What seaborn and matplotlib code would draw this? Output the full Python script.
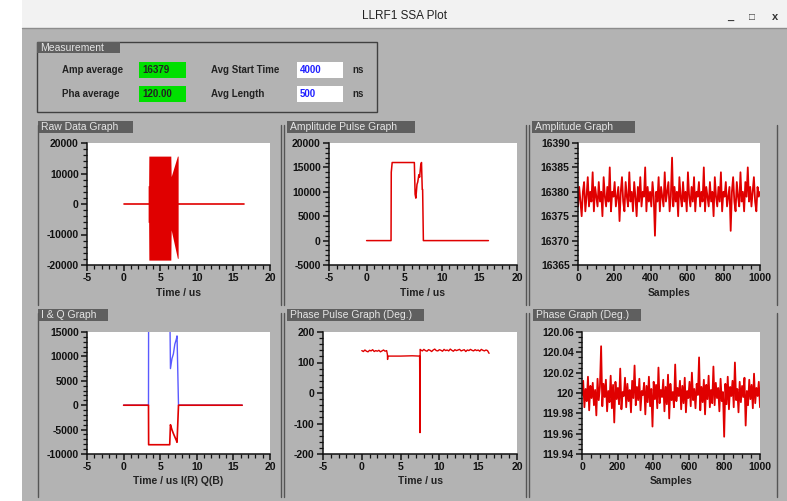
import matplotlib
matplotlib.use("Agg")
import matplotlib.pyplot as plt
import seaborn as sns
from matplotlib.patches import Rectangle
from matplotlib.ticker import MultipleLocator, AutoMinorLocator, FuncFormatter

W, H = 787, 501
RED = "#e00000"
BLUE = "#5a5aff"
GRAY = "#b3b3b3"
TAB = "#5f5f5f"

# ---- data ----
raw_base_t = [0.0, 16.4]
raw_base_v = [0, 0]
raw_env_t = [3.35, 3.42, 3.45, 6.45, 6.5, 7.35, 7.45]
raw_upper = [6000, 6000, 15700, 15700, 9000, 15700, 15700]
raw_lower = [-6000, -6000, -18400, -18400, -8500, -17800, -17800]

pulse_t = [0.0, 3.25, 3.28, 3.4, 6.35, 6.45, 6.55, 6.7, 6.8, 6.95, 7.05, 7.2, 7.3, 7.4, 7.45, 7.55, 16.2]
pulse_amp = [0, 0, 14000, 16000, 16000, 9500, 8700, 11500, 12000, 13500, 13000, 15500, 16000, 10500, 10500, 0, 0]

iq_t = [0.0, 3.4, 3.42, 6.3, 6.4, 6.6, 6.8, 7.0, 7.2, 7.3, 7.5, 16.2]
i_vals = [0, 0, -8100, -8100, -4000, -5000, -5800, -6500, -7200, -7600, 0, 0]
q_vals = [0, 0, 22000, 22000, 7500, 9500, 10500, 12500, 13500, 14200, 0, 0]

pp_t = [0.0, 0.2, 0.4, 0.6, 0.8, 1.0, 1.2, 1.4, 1.6, 1.8, 2.0, 2.2, 2.4, 2.6, 2.8, 3.0, 3.2, 3.3,
        3.32, 3.36, 5.0, 6.5, 7.45, 7.5, 7.52,
        7.6, 7.8, 8.0, 8.2, 8.4, 8.6, 8.8, 9.0, 9.2, 9.4, 9.6, 9.8, 10.0, 10.2, 10.4, 10.6,
        10.8, 11.0, 11.2, 11.4, 11.6, 11.8, 12.0, 12.2, 12.4, 12.6, 12.8, 13.0, 13.2, 13.4,
        13.6, 13.8, 14.0, 14.2, 14.4, 14.6, 14.8, 15.0, 15.2, 15.4, 15.6, 15.8, 16.0, 16.2, 16.4]
pp_vals = [139, 136, 141, 137, 135, 140, 138, 142, 136, 139, 137, 140, 135, 138, 141, 137, 139, 126,
           110, 121, 121, 122, 121, -130, 143,
           141, 138, 143, 139, 137, 142, 140, 136, 141, 144, 139, 138, 142, 140, 137, 143,
           139, 141, 138, 144, 140, 137, 142, 139, 141, 143, 138, 140, 142, 136, 141,
           139, 143, 140, 138, 142, 139, 141, 137, 143, 140, 138, 141, 139, 130]

amp_vals = [
    16377, 16381, 16378, 16375, 16380, 16382, 16376, 16379, 16383, 16377,
    16380, 16378, 16384, 16376, 16381, 16379, 16377, 16382, 16378, 16380,
    16375, 16383, 16379, 16377, 16381, 16378, 16385, 16376, 16380, 16379,
    16382, 16377, 16379, 16381, 16374, 16380, 16383, 16378, 16376, 16382,
    16379, 16377, 16384, 16378, 16380, 16376, 16382, 16379, 16375, 16381,
    16378, 16383, 16377, 16380, 16379, 16385, 16376, 16381, 16378, 16380,
    16377, 16382, 16379, 16371, 16380, 16378, 16383, 16376, 16381, 16379,
    16377, 16384, 16378, 16380, 16382, 16376, 16379, 16387, 16377, 16381,
    16378, 16380, 16375, 16383, 16379, 16377, 16382, 16378, 16380, 16376,
    16384, 16379, 16377, 16381, 16378, 16383, 16376, 16380, 16379, 16382,
    16377, 16380, 16378, 16385, 16376, 16381, 16379, 16377, 16382, 16378,
    16380, 16375, 16383, 16379, 16377, 16381, 16378, 16384, 16376, 16380,
    16379, 16382, 16377, 16379, 16381, 16372, 16380, 16383, 16378, 16376,
    16382, 16379, 16377, 16384, 16378, 16380, 16376, 16382, 16379, 16385,
    16378, 16381, 16377, 16380, 16383, 16378, 16376, 16381, 16379, 16380]

ph_vals = [
    119.998, 120.012, 119.986, 120.004, 119.992, 120.016, 119.983, 120.007, 119.995, 120.010,
    119.988, 120.003, 119.978, 120.014, 119.993, 120.006, 120.046, 119.987, 120.009, 119.996,
    120.013, 119.982, 120.002, 119.991, 120.017, 119.985, 120.008, 119.971, 120.011, 119.994,
    120.005, 119.989, 120.024, 119.984, 120.001, 119.997, 120.015, 119.986, 120.009, 119.992,
    120.003, 119.981, 120.012, 119.995, 120.027, 119.988, 120.006, 119.993, 120.014, 119.983,
    120.002, 119.998, 120.010, 119.979, 120.007, 119.991, 120.016, 119.987, 120.004, 119.967,
    120.011, 119.994, 120.008, 119.985, 120.025, 119.990, 120.003, 119.996, 120.013, 119.982,
    120.006, 119.989, 120.018, 119.975, 120.009, 119.993, 120.001, 119.986, 120.028, 119.992,
    120.005, 119.997, 120.012, 119.984, 120.007, 119.990, 120.015, 119.981, 120.002, 119.995,
    120.011, 119.987, 120.020, 119.993, 120.004, 119.985, 120.009, 119.998, 120.035, 119.983,
    120.006, 119.991, 120.013, 119.979, 120.008, 119.994, 120.017, 119.986, 120.003, 119.990,
    120.026, 119.988, 120.010, 119.995, 120.005, 119.982, 120.014, 119.992, 120.001, 119.957,
    120.009, 119.989, 120.016, 119.984, 120.006, 119.997, 120.012, 119.986, 120.030, 119.993,
    120.004, 119.981, 120.011, 119.991, 120.007, 119.996, 120.015, 119.968, 120.002, 119.988,
    120.013, 119.994, 120.008, 119.985, 120.019, 119.990, 120.005, 119.997, 120.011, 119.986]

samples = [i * 1000 / (len(amp_vals) - 1) for i in range(len(amp_vals))]

meas_labels = ["Amp average", "Pha average"]
meas_values = ["16379", "120.00"]
avg_labels = ["Avg Start Time", "Avg Length"]
avg_values = ["4000", "500"]


def px_axes(fig, x0, y0, x1, y1):
    return fig.add_axes([x0 / W, 1 - y1 / H, (x1 - x0) / W, (y1 - y0) / H])


def fmt(v, pos):
    if abs(v) < 1e-9:
        return "0"
    return f"{v:g}"


def style_axes(ax, xlim, ylim, xstep, ystep, xminor, yminor, xlabel):
    ax.set_facecolor("white")
    ax.set_xlim(*xlim)
    ax.set_ylim(*ylim)
    ax.xaxis.set_major_locator(MultipleLocator(xstep))
    ax.yaxis.set_major_locator(MultipleLocator(ystep))
    ax.xaxis.set_minor_locator(AutoMinorLocator(xminor))
    ax.yaxis.set_minor_locator(AutoMinorLocator(yminor))
    ax.xaxis.set_major_formatter(FuncFormatter(fmt))
    ax.yaxis.set_major_formatter(FuncFormatter(fmt))
    ax.tick_params(which="major", direction="out", length=4.5, width=1.1,
                   labelsize=7.5, pad=1.5, colors="#111111")
    ax.tick_params(which="minor", direction="out", length=2.8, width=0.9,
                   colors="#111111", bottom=True, left=True)
    for lab in ax.get_xticklabels() + ax.get_yticklabels():
        lab.set_fontweight("bold")
    sns.despine(ax=ax)
    for s in ["left", "bottom"]:
        ax.spines[s].set_linewidth(1.1)
        ax.spines[s].set_color("#111111")
    ax.set_xlabel(xlabel, fontsize=7.5, fontweight="bold", labelpad=3, color="#222222")
    ax.set_ylabel("")


def line(ax, x, y, color, lw=1.0):
    sns.lineplot(x=x, y=y, ax=ax, color=color, linewidth=lw, estimator=None, sort=False)


def main():
    sns.set_style("ticks")
    plt.rcParams["font.family"] = ["Liberation Sans", "DejaVu Sans"]

    fig = plt.figure(figsize=(W / 100, H / 100), dpi=100)
    fig.patch.set_facecolor(GRAY)

    # window chrome drawn on a pixel-space background axes
    bg = fig.add_axes([0, 0, 1, 1], zorder=-10)
    bg.set_xlim(0, W)
    bg.set_ylim(H, 0)
    bg.axis("off")
    bg.add_patch(Rectangle((0, 0), 22, H, fc="white", ec="none"))
    bg.add_patch(Rectangle((22, 0), W - 22, 28, fc="#f2f2f2", ec="none"))
    bg.plot([22, W], [28, 28], color="#8c8c8c", lw=1)
    bg.text(405, 16, "LLRF1 SSA Plot", ha="center", va="center", fontsize=8.5, color="#222222")
    bg.text(730, 17, "_", ha="center", va="center", fontsize=8, fontweight="bold", color="#333333")
    bg.text(752, 17, "□", ha="center", va="center", fontsize=7, fontweight="bold", color="#333333")
    bg.text(775, 17, "x", ha="center", va="center", fontsize=8, fontweight="bold", color="#333333")

    # measurement box
    bg.add_patch(Rectangle((37, 42), 340, 70, fc="none", ec="#404040", lw=1))
    bg.add_patch(Rectangle((37, 42), 83, 11, fc=TAB, ec="none"))
    bg.text(40, 47.5, "Measurement", va="center", fontsize=7.5, color="#e6e6e6")
    for i, (lab, val) in enumerate(zip(meas_labels, meas_values)):
        y = 70 + 24 * i
        bg.text(62, y, lab, va="center", fontsize=7, fontweight="bold", color="#222222")
        bg.add_patch(Rectangle((139, y - 8), 47, 16, fc="#00e000", ec="none"))
        bg.text(142, y, val, va="center", fontsize=7, fontweight="bold", color="#222222")
    for i, (lab, val) in enumerate(zip(avg_labels, avg_values)):
        y = 70 + 24 * i
        bg.text(211, y, lab, va="center", fontsize=7, fontweight="bold", color="#222222")
        bg.add_patch(Rectangle((297, y - 8), 46, 16, fc="white", ec="none"))
        bg.text(300, y, val, va="center", fontsize=7, fontweight="bold", color="#2020ff")
        bg.text(352, y, "ns", va="center", fontsize=7, fontweight="bold", color="#222222")

    # panel frames and tabs
    for y0, y1 in [(121, 305), (309, 497)]:
        for x in [38, 281, 284, 526, 529, 777]:
            bg.plot([x, x], [y0 + 4, y1], color="#555555", lw=1)
    tabs = [(38, 121, 95, "Raw Data Graph"), (287, 121, 128, "Amplitude Pulse Graph"),
            (532, 121, 103, "Amplitude Graph"), (38, 309, 70, "I & Q Graph"),
            (287, 309, 137, "Phase Pulse Graph (Deg.)"), (533, 309, 108, "Phase Graph (Deg.)")]
    for x, y, w, t in tabs:
        bg.add_patch(Rectangle((x, y), w, 12, fc=TAB, ec="none"))
        bg.text(x + 3, y + 6, t, va="center", fontsize=7.5, color="#e6e6e6")

    # Raw Data Graph
    ax1 = px_axes(fig, 87, 143, 270, 265)
    ax1.fill_between(raw_env_t, raw_lower, raw_upper, color=RED, lw=0)
    line(ax1, raw_base_t, raw_base_v, RED, 1.2)
    style_axes(ax1, (-5, 20), (-20000, 20000), 5, 10000, 5, 5, "Time / us")

    # Amplitude Pulse Graph
    ax2 = px_axes(fig, 329, 143, 517, 265)
    line(ax2, pulse_t, pulse_amp, RED, 1.1)
    style_axes(ax2, (-5, 20), (-5000, 20000), 5, 5000, 5, 5, "Time / us")

    # Amplitude Graph
    ax3 = px_axes(fig, 578, 143, 760, 265)
    line(ax3, samples, amp_vals, RED, 1.3)
    style_axes(ax3, (0, 1000), (16365, 16390), 200, 5, 4, 5, "Samples")

    # I & Q Graph
    ax4 = px_axes(fig, 87, 332, 270, 454)
    line(ax4, iq_t, q_vals, BLUE, 1.0)
    line(ax4, iq_t, i_vals, RED, 1.2)
    style_axes(ax4, (-5, 20), (-10000, 15000), 5, 5000, 5, 5, "Time / us I(R) Q(B)")

    # Phase Pulse Graph
    ax5 = px_axes(fig, 323, 332, 517, 454)
    line(ax5, pp_t, pp_vals, RED, 1.0)
    style_axes(ax5, (-5, 20), (-200, 200), 5, 100, 5, 5, "Time / us")

    # Phase Graph
    ax6 = px_axes(fig, 582, 332, 760, 454)
    line(ax6, samples, ph_vals, RED, 1.3)
    style_axes(ax6, (0, 1000), (119.94, 120.06), 200, 0.02, 4, 4, "Samples")

    fig.savefig("out.png", dpi=100, facecolor=fig.get_facecolor())


if __name__ == "__main__":
    main()
